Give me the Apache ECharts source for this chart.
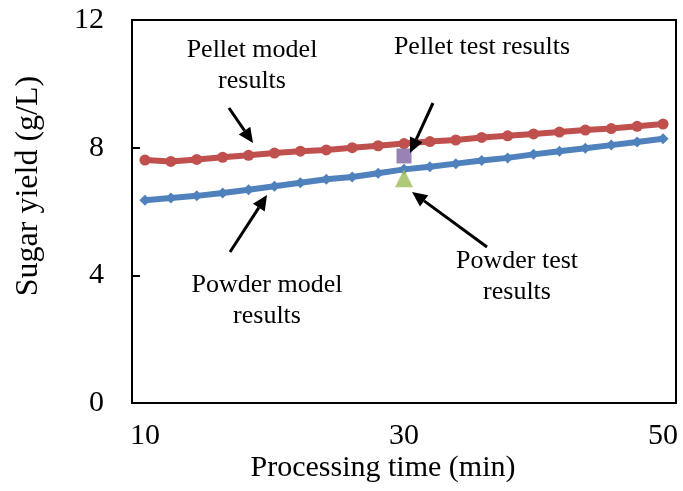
<!DOCTYPE html>
<html>
<head>
<meta charset="utf-8">
<script src="https://cdn.jsdelivr.net/npm/echarts@6/dist/echarts.min.js"></script>
<style>
  html, body { margin: 0; padding: 0; background: #fff; }
  #chart { width: 683px; height: 491px; }
</style>
</head>
<body>
<div id="chart"></div>
<script>
// Processing time (min), sampled every 2 minutes
const times = ['10','12','14','16','18','20','22','24','26','28','30','32','34','36','38','40','42','44','46','48','50'];
// Model-predicted sugar yield (g/L)
const pelletModel = [7.61, 7.57, 7.63, 7.70, 7.76, 7.83, 7.89, 7.93, 8.00, 8.06, 8.13, 8.19, 8.24, 8.32, 8.37, 8.43, 8.49, 8.55, 8.60, 8.67, 8.74];
const powderModel = [6.35, 6.42, 6.49, 6.58, 6.68, 6.79, 6.90, 7.01, 7.08, 7.20, 7.32, 7.40, 7.50, 7.60, 7.68, 7.79, 7.89, 7.98, 8.08, 8.18, 8.28];
// Measured yields at 30 min
const testTime = '30';
const pelletTest = 7.74;
const powderTest = 7.04;
// Y axis range and step
const yMin = 0, yMax = 12, yStep = 4;

const serif = '"Liberation Serif", "Times New Roman", serif';
const chart = echarts.init(document.getElementById('chart'), null, { renderer: 'canvas' });

// Arrow: straight shaft with a filled triangular head at (x2, y2)
function arrow(x1, y1, x2, y2) {
  const ang = Math.atan2(y2 - y1, x2 - x1);
  const len = 15, half = 7;
  const bx = x2 - len * Math.cos(ang), by = y2 - len * Math.sin(ang);
  const px = -Math.sin(ang) * half, py = Math.cos(ang) * half;
  return [
    { type: 'line', shape: { x1: x1, y1: y1, x2: bx, y2: by }, style: { stroke: '#000', lineWidth: 3 }, z: 100 },
    { type: 'polygon', shape: { points: [[x2, y2], [bx + px, by + py], [bx - px, by - py]] }, style: { fill: '#000' }, z: 100 }
  ];
}

function note(text, x, y) {
  return {
    type: 'text', x: x, y: y, z: 100,
    style: { text: text, font: '26px ' + serif, fill: '#000', align: 'center', verticalAlign: 'middle', lineHeight: 31 }
  };
}

chart.setOption({
  animation: false,
  backgroundColor: '#fff',
  grid: { left: 132, right: 7, top: 20, bottom: 88, show: true, borderColor: '#000', borderWidth: 2, backgroundColor: 'transparent' },
  xAxis: {
    type: 'category',
    data: times,
    boundaryGap: true,
    axisLine: { lineStyle: { color: '#000', width: 2 } },
    axisTick: { show: false },
    axisLabel: { interval: 9, color: '#000', fontFamily: serif, fontSize: 30, margin: 18 },
    splitLine: { show: false }
  },
  yAxis: {
    type: 'value',
    min: yMin, max: yMax, interval: yStep,
    axisLine: { show: true, lineStyle: { color: '#000', width: 2 } },
    axisTick: { show: true, inside: true, length: 8, lineStyle: { color: '#000', width: 2 } },
    axisLabel: { color: '#000', fontFamily: serif, fontSize: 30, margin: 28 },
    splitLine: { show: false }
  },
  series: [
    {
      name: 'Pellet model results', type: 'line', data: pelletModel,
      symbol: 'circle', symbolSize: 11,
      lineStyle: { color: '#C0504D', width: 6 },
      itemStyle: { color: '#C0504D' }, z: 3
    },
    {
      name: 'Powder model results', type: 'line', data: powderModel,
      symbol: 'diamond', symbolSize: 11,
      lineStyle: { color: '#4F81BD', width: 6 },
      itemStyle: { color: '#4F81BD' }, z: 3
    },
    {
      name: 'Pellet test results', type: 'scatter', data: [[testTime, pelletTest]],
      symbol: 'rect', symbolSize: 15,
      itemStyle: { color: '#8064A2' }, z: 5
    },
    {
      name: 'Powder test results', type: 'scatter', data: [[testTime, powderTest]],
      symbol: 'triangle', symbolSize: 18,
      itemStyle: { color: '#9BBB59' }, z: 5
    }
  ],
  graphic: [
    note('Pellet model\nresults', 252, 66),
    note('Pellet test results', 482, 47),
    note('Powder test\nresults', 517, 277),
    note('Powder model\nresults', 267, 301),
    { type: 'text', x: 383, y: 468, z: 100,
      style: { text: 'Processing time (min)', font: '30px ' + serif, fill: '#000', align: 'center', verticalAlign: 'middle' } },
    { type: 'text', x: 29, y: 186, rotation: Math.PI / 2, z: 100,
      style: { text: 'Sugar yield (g/L)', font: '32px ' + serif, fill: '#000', align: 'center', verticalAlign: 'middle' } }
  ].concat(
    arrow(229, 108, 253, 143),
    arrow(433, 103, 410, 153),
    arrow(487, 247, 412, 192),
    arrow(230, 252, 267, 195)
  )
});
</script>
</body>
</html>
